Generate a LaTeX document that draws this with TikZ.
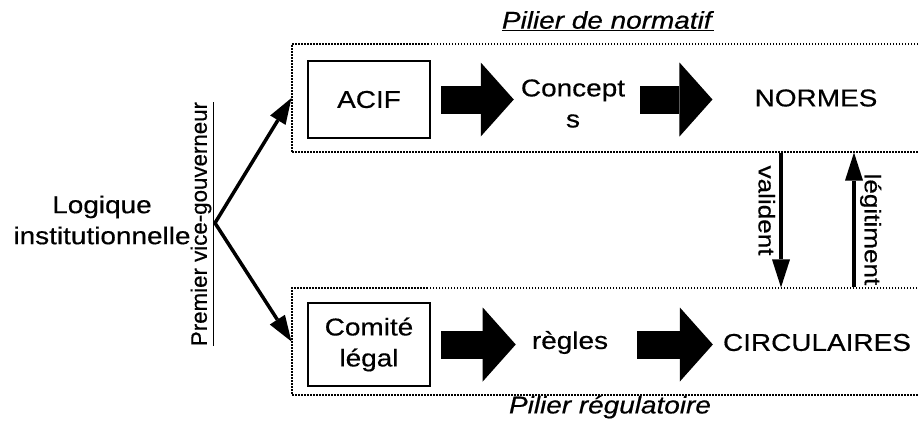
\documentclass[tikz,border=0pt]{standalone}
\usepackage{fontspec}
\setmainfont[FakeStretch=1.15, FakeBold=0.5]{Liberation Sans}
\newfontfamily\plainsans[FakeBold=0.5]{Liberation Sans}
\usetikzlibrary{arrows.meta,positioning}

\begin{document}
\begin{tikzpicture}[x=1pt, y=-1pt, node distance=204pt,
        every node/.style={font=\fontsize{24.3}{31}\selectfont, inner sep=0pt, align=center},
        box/.style={draw, line width=2pt, outer sep=0pt, minimum width=122pt},
        frame/.style={draw, dash pattern=on 1.5pt off 1.5pt, line width=1.1pt, minimum width=640pt},
        fat/.style={line width=28pt, -{Triangle[length=33pt, width=74pt, line width=0pt]}},
        slim/.style={line width=4pt, -{Triangle[length=28pt, width=18pt, line width=0pt]}},
        vlabel/.style={rotate=-90, inner sep=4pt, font=\fontsize{22.7}{27}\selectfont}]
    \useasboundingbox (0,0) rectangle (919,423);
    \node[frame, minimum height=108pt] (normatif) at (612,98) {};
    \node[frame, minimum height=107pt] (regulatoire) at (612,341.5) {};
    \node (titrenorm) at (608,21) {\underline{\textit{Pilier de normatif}}};
    \node (titrereg) at (610,407) {\textit{Pilier régulatoire}};
    \node[box, minimum height=77pt] (acif) at (369,99.5) {ACIF};
    \node[right of=acif, yshift=-4pt] (concepts) {Concept\\s};
    \node[right of=concepts, xshift=39pt, yshift=5.5pt] (normes) {NORMES};
    \node[box, minimum height=83pt] (comite) at (369,344.5) {Comité\\légal};
    \node[right of=comite, xshift=-3pt, yshift=2pt] (regles) {règles};
    \node[right of=regles, xshift=43pt] (circulaires) {CIRCULAIRES};
    \node[align=center] (logique) at (102,220) {Logique\\institutionnelle};
    \node[rotate=90, font=\plainsans\fontsize{22.3}{27}\selectfont] (premier) at (202,224) {\underline{Premier vice-gouverneur}};
    \coordinate (fourche) at (215,223);
    % deux branches depuis la logique
    \draw[line width=3.5pt, line join=miter, {Triangle[length=26pt, width=18pt, line width=0pt]}-{Triangle[length=26pt, width=18pt, line width=0pt]}] (normatif.west) -- (fourche) -- (regulatoire.west);
    \draw[fat, shorten <=11pt, shorten >=7pt] (acif.east) -- (acif.east -| concepts.west);
    \draw[fat, shorten <=15pt, shorten >=42pt] (acif.east -| concepts.east) -- (acif.east -| normes.west);
    \draw[fat, shorten <=11pt, shorten >=16pt] (comite.east) -- (comite.east -| regles.west);
    \draw[fat, shorten <=29pt, shorten >=10pt] (comite.east -| regles.east) -- (comite.east -| circulaires.west);
    % entre les deux piliers
    \draw[slim] ([xshift=-35pt]normes.south |- normatif.south) -- ([xshift=-35pt]normes.south |- regulatoire.north) node[vlabel, pos=0.43, anchor=north] {valident};
    \draw[slim] ([xshift=38pt]normes.south |- regulatoire.north) -- ([xshift=38pt]normes.south |- normatif.south) node[vlabel, pos=0.43, anchor=south] {légitiment};
\end{tikzpicture}
\end{document}
